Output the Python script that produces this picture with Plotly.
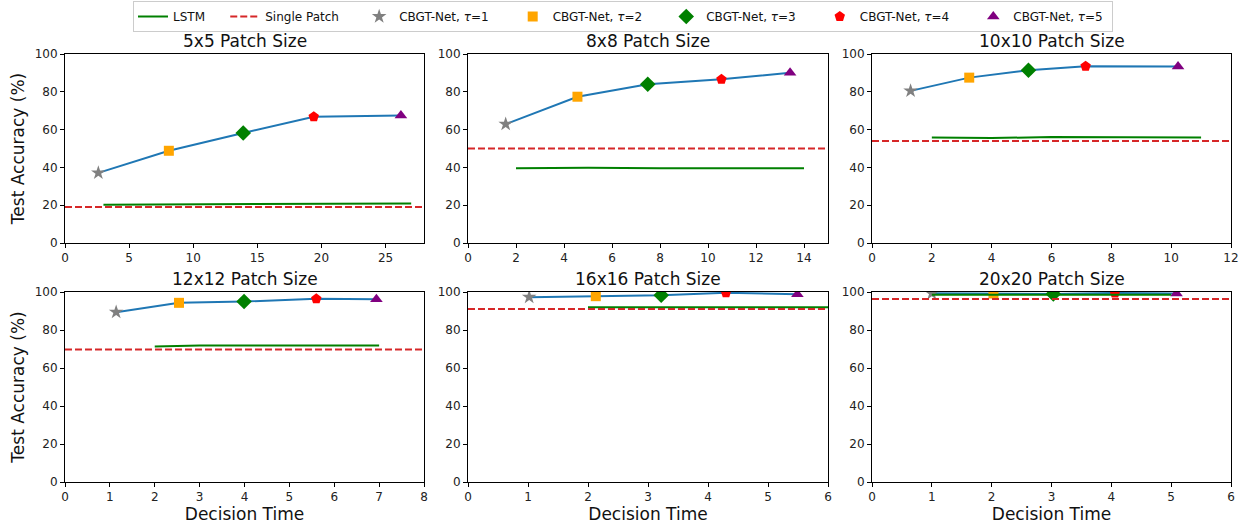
import plotly.graph_objects as go

# ---------------- data ----------------
titles = ["5x5 Patch Size", "8x8 Patch Size", "10x10 Patch Size",
          "12x12 Patch Size", "16x16 Patch Size", "20x20 Patch Size"]

# CBGT-Net (tau = 1..5): decision time and accuracy per panel
cbgt_time_5 = [2.6, 8.1, 13.9, 19.4, 26.2]
cbgt_acc_5 = [37.1, 48.8, 58.2, 66.8, 67.5]
cbgt_time_8 = [1.57, 4.56, 7.49, 10.56, 13.42]
cbgt_acc_8 = [62.9, 77.4, 84.0, 86.6, 90.1]
cbgt_time_10 = [1.29, 3.25, 5.23, 7.14, 10.23]
cbgt_acc_10 = [80.5, 87.5, 91.4, 93.5, 93.4]
cbgt_time_12 = [1.14, 2.54, 3.99, 5.6, 6.94]
cbgt_acc_12 = [89.4, 94.3, 95.0, 96.4, 96.2]
cbgt_time_16 = [1.02, 2.13, 3.22, 4.3, 5.49]
cbgt_acc_16 = [97.3, 97.8, 98.3, 99.6, 98.8]
cbgt_time_20 = [1.0, 2.03, 3.03, 4.06, 5.09]
cbgt_acc_20 = [99.3, 99.2, 99.0, 99.5, 99.2]

# LSTM baseline
lstm_time_5 = [3, 9, 15, 21, 27]
lstm_acc_5 = [20.3, 20.5, 20.7, 20.8, 20.9]
lstm_time_8 = [2, 5, 8, 11, 14]
lstm_acc_8 = [39.6, 39.8, 39.6, 39.5, 39.6]
lstm_time_10 = [2, 4, 6, 8, 11]
lstm_acc_10 = [55.8, 55.5, 56.1, 55.9, 55.8]
lstm_time_12 = [2, 3, 4, 5, 6, 7]
lstm_acc_12 = [71.3, 71.8, 71.9, 71.9, 72.0, 71.8]
lstm_time_16 = [2, 3, 4, 5, 6]
lstm_acc_16 = [92.0, 92.1, 92.1, 92.0, 92.0]
lstm_time_20 = [1, 2, 3, 4, 5]
lstm_acc_20 = [98.5, 98.6, 98.6, 98.6, 98.5]

# Single Patch baseline
single_acc = [19.0, 50.0, 54.0, 69.8, 91.0, 96.3]

# axis settings
x_max = [28, 15, 12, 8, 6, 6]
x_dtick = [5, 2, 2, 1, 1, 1]
y_ticks = [0, 20, 40, 60, 80, 100]

cbgt_times = [cbgt_time_5, cbgt_time_8, cbgt_time_10, cbgt_time_12, cbgt_time_16, cbgt_time_20]
cbgt_accs = [cbgt_acc_5, cbgt_acc_8, cbgt_acc_10, cbgt_acc_12, cbgt_acc_16, cbgt_acc_20]
lstm_times = [lstm_time_5, lstm_time_8, lstm_time_10, lstm_time_12, lstm_time_16, lstm_time_20]
lstm_accs = [lstm_acc_5, lstm_acc_8, lstm_acc_10, lstm_acc_12, lstm_acc_16, lstm_acc_20]

tau_names = ["CBGT-Net, <i>τ</i>=1", "CBGT-Net, <i>τ</i>=2", "CBGT-Net, <i>τ</i>=3",
             "CBGT-Net, <i>τ</i>=4", "CBGT-Net, <i>τ</i>=5"]
tau_colors = ["gray", "orange", "green", "red", "purple"]
tau_symbols = ["star", "square", "diamond", "pentagon", "triangle-up"]
tau_sizes = [11, 10, 12, 11, 11]

# ---------------- layout geometry ----------------
W, H = 1246, 527
x_doms = [[65 / W, 424 / W], [468 / W, 828 / W], [872 / W, 1231 / W]]
y_doms = [[1 - 243 / H, 1 - 54 / H], [1 - 482 / H, 1 - 292 / H]]

FONT = "DejaVu Sans"
fig = go.Figure()

NBSP = "\u00a0"

for i in range(6):
    row, col = divmod(i, 3)
    ax = "" if i == 0 else str(i + 1)
    xa, ya = "x" + ax, "y" + ax
    first = i == 0
    # CBGT line
    fig.add_trace(go.Scatter(x=cbgt_times[i], y=cbgt_accs[i], mode="lines",
                             line=dict(color="#1f77b4", width=2),
                             showlegend=False, xaxis=xa, yaxis=ya, hoverinfo="skip"))
    # markers
    for k in range(5):
        label = tau_names[k] + (NBSP * 5 if k < 4 else NBSP)
        fig.add_trace(go.Scatter(x=[cbgt_times[i][k]], y=[cbgt_accs[i][k]], mode="markers",
                                 marker=dict(color=tau_colors[k], symbol=tau_symbols[k],
                                             size=tau_sizes[k], line=dict(width=0)),
                                 name=label, legendgroup="tau%d" % k,
                                 showlegend=first, legendrank=10 + k, xaxis=xa, yaxis=ya))
    # LSTM
    fig.add_trace(go.Scatter(x=lstm_times[i], y=lstm_accs[i], mode="lines",
                             line=dict(color="green", width=2),
                             name="LSTM" + NBSP * 4, legendgroup="lstm", showlegend=first,
                             legendrank=1, xaxis=xa, yaxis=ya))
    # Single patch
    fig.add_trace(go.Scatter(x=[0, x_max[i]], y=[single_acc[i], single_acc[i]], mode="lines",
                             line=dict(color="#d62728", width=2, dash="7px,3px"),
                             name="Single Patch" + NBSP * 4, legendgroup="single", showlegend=first,
                             legendrank=2, xaxis=xa, yaxis=ya))

    axis_common = dict(showline=True, linecolor="black", linewidth=1, mirror=True,
                       ticks="outside", ticklen=4, tickcolor="black", showgrid=False,
                       zeroline=False, automargin=False,
                       tickfont=dict(family=FONT, size=12, color="#222"))
    xkw = dict(axis_common, domain=x_doms[col], range=[0, x_max[i]], dtick=x_dtick[i],
               tick0=0, anchor=ya)
    ykw = dict(axis_common, domain=y_doms[row], range=[0, 100], tickvals=y_ticks,
               anchor=xa)
    if row == 1:
        xkw["title"] = dict(text="Decision Time", font=dict(family=FONT, size=17, color="#111"),
                            standoff=4)
    if col == 0:
        ykw["title"] = dict(text="Test Accuracy (%)", font=dict(family=FONT, size=17, color="#111"),
                            standoff=5)
    fig.update_layout({"xaxis" + ax: xkw, "yaxis" + ax: ykw})

    fig.add_annotation(text=titles[i], xref="paper", yref="paper",
                       x=(x_doms[col][0] + x_doms[col][1]) / 2,
                       y=y_doms[row][1], yanchor="bottom", xanchor="center",
                       showarrow=False, yshift=1,
                       font=dict(family=FONT, size=17, color="#111"))

fig.update_layout(
    width=W, height=H,
    margin=dict(l=0, r=0, t=0, b=0),
    paper_bgcolor="white", plot_bgcolor="white",
    font=dict(family=FONT, size=12, color="#111"),
    legend=dict(orientation="h", x=0.5, xanchor="center", y=1 - 1 / H, yanchor="top",
                bordercolor="#cccccc", borderwidth=1, bgcolor="white",
                font=dict(family=FONT, size=12), itemwidth=30, tracegroupgap=0),
    showlegend=True,
)

fig.write_html("out.html")
